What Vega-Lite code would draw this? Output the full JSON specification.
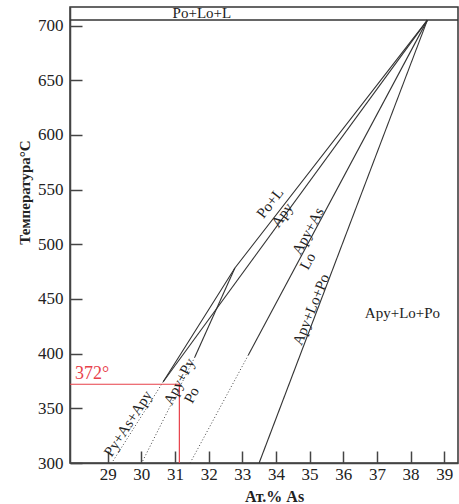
{
  "$schema": "https://vega.github.io/schema/vega-lite/v6.json",
  "width": 388,
  "height": 456,
  "autosize": {"type": "none"},
  "padding": {"left": 70, "top": 7, "right": 1, "bottom": 41},
  "background": "white",
  "config": {
    "view": {"stroke": "#333", "strokeWidth": 1.5},
    "axis": {
      "labelFont": "Liberation Serif",
      "labelFontSize": 17,
      "labelColor": "#222",
      "titleFont": "Liberation Serif",
      "titleFontWeight": "bold",
      "titleColor": "#222",
      "domainColor": "#444",
      "domainWidth": 1.5,
      "tickColor": "#444",
      "tickWidth": 1.5,
      "tickSize": -12,
      "grid": false
    },
    "text": {"font": "Liberation Serif", "fontSize": 15, "color": "#222"}
  },
  "datasets": {
    "solid": [
      {"seg": "a", "ord": 1, "as": 38.5, "t": 705},
      {"seg": "a", "ord": 2, "as": 32.78, "t": 478.3},
      {"seg": "a", "ord": 3, "as": 30.65, "t": 374.3},
      {"seg": "b", "ord": 1, "as": 38.5, "t": 705},
      {"seg": "b", "ord": 2, "as": 30.65, "t": 374.3},
      {"seg": "c", "ord": 1, "as": 32.78, "t": 478.3},
      {"seg": "c", "ord": 2, "as": 31.59, "t": 396.9},
      {"seg": "d", "ord": 1, "as": 38.5, "t": 705},
      {"seg": "d", "ord": 2, "as": 33.18, "t": 398.8},
      {"seg": "e", "ord": 1, "as": 38.5, "t": 705},
      {"seg": "e", "ord": 2, "as": 33.5, "t": 300}
    ],
    "dotted": [
      {"seg": "a", "ord": 1, "as": 30.65, "t": 374.3},
      {"seg": "a", "ord": 2, "as": 29.12, "t": 300},
      {"seg": "c", "ord": 1, "as": 31.59, "t": 396.9},
      {"seg": "c", "ord": 2, "as": 30.01, "t": 300},
      {"seg": "d", "ord": 1, "as": 33.18, "t": 398.8},
      {"seg": "d", "ord": 2, "as": 31.45, "t": 300}
    ],
    "red": [
      {"ord": 1, "as": 27.88, "t": 372},
      {"ord": 2, "as": 31.13, "t": 372},
      {"ord": 3, "as": 31.13, "t": 300}
    ]
  },
  "encoding": {
    "x": {
      "field": "as", "type": "quantitative",
      "scale": {"domain": [27.88, 39.41], "nice": false, "zero": false},
      "axis": {
        "values": [29, 30, 31, 32, 33, 34, 35, 36, 37, 38, 39],
        "title": "Ат.% As",
        "titleFontSize": 16,
        "labelPadding": 15,
        "titleX": 204,
        "titleY": 38,
        "titleBaseline": "alphabetic"
      }
    },
    "y": {
      "field": "t", "type": "quantitative",
      "scale": {"domain": [300, 717], "nice": false, "zero": false},
      "axis": {
        "values": [300, 350, 400, 450, 500, 550, 600, 650, 700],
        "title": "Температура°C",
        "titleFontSize": 15,
        "labelPadding": 19,
        "titleX": -41,
        "titleY": 185,
        "titleAlign": "center",
        "titleBaseline": "alphabetic"
      }
    }
  },
  "layer": [
    {
      "data": {"values": [{"t": 705}]},
      "mark": {"type": "rule", "color": "#333", "strokeWidth": 1.5},
      "encoding": {"x": null}
    },
    {
      "data": {"name": "solid"},
      "mark": {"type": "line", "color": "#333", "strokeWidth": 1.1},
      "encoding": {"detail": {"field": "seg"}, "order": {"field": "ord"}}
    },
    {
      "data": {"name": "dotted"},
      "mark": {"type": "line", "color": "#444", "strokeWidth": 1, "strokeDash": [1, 2.2]},
      "encoding": {"detail": {"field": "seg"}, "order": {"field": "ord"}}
    },
    {
      "data": {"name": "red"},
      "mark": {"type": "line", "color": "#e8404a", "strokeWidth": 1.2},
      "encoding": {"order": {"field": "ord"}}
    },
    {
      "data": {"values": [{"label": "372°", "as": 28.03, "t": 372}]},
      "mark": {"type": "text", "align": "left", "baseline": "bottom", "dy": -1, "fontSize": 18, "color": "#e8404a"},
      "encoding": {"text": {"field": "label"}}
    },
    {
      "data": {"values": [
        {"label": "Po+Lo+L", "as": 31.8, "t": 711.3},
        {"label": "Apy+Lo+Po", "as": 37.76, "t": 437.6}
      ]},
      "mark": {"type": "text", "align": "center", "baseline": "middle"},
      "encoding": {"text": {"field": "label"}}
    },
    {
      "data": {"values": [{"label": "Po+L", "as": 33.82, "t": 537.8}]},
      "mark": {"type": "text", "align": "center", "baseline": "middle", "angle": -52},
      "encoding": {"text": {"field": "label"}}
    },
    {
      "data": {"values": [{"label": "Apy", "as": 34.18, "t": 526.8}]},
      "mark": {"type": "text", "align": "center", "baseline": "middle", "angle": -54},
      "encoding": {"text": {"field": "label"}}
    },
    {
      "data": {"values": [
        {"label": "Apy+As", "as": 34.95, "t": 512.2},
        {"label": "Lo", "as": 34.94, "t": 484.7}
      ]},
      "mark": {"type": "text", "align": "center", "baseline": "middle", "angle": -62},
      "encoding": {"text": {"field": "label"}}
    },
    {
      "data": {"values": [{"label": "Apy+Lo+Po", "as": 35.04, "t": 440.4}]},
      "mark": {"type": "text", "align": "center", "baseline": "middle", "angle": -68},
      "encoding": {"text": {"field": "label"}}
    },
    {
      "data": {"values": [{"label": "Py+As+Apy", "as": 29.6, "t": 336.1}]},
      "mark": {"type": "text", "align": "center", "baseline": "middle", "angle": -57},
      "encoding": {"text": {"field": "label"}}
    },
    {
      "data": {"values": [
        {"label": "Apy+Py", "as": 31.12, "t": 374.5},
        {"label": "Po", "as": 31.49, "t": 362.2}
      ]},
      "mark": {"type": "text", "align": "center", "baseline": "middle", "angle": -62},
      "encoding": {"text": {"field": "label"}}
    }
  ]
}
